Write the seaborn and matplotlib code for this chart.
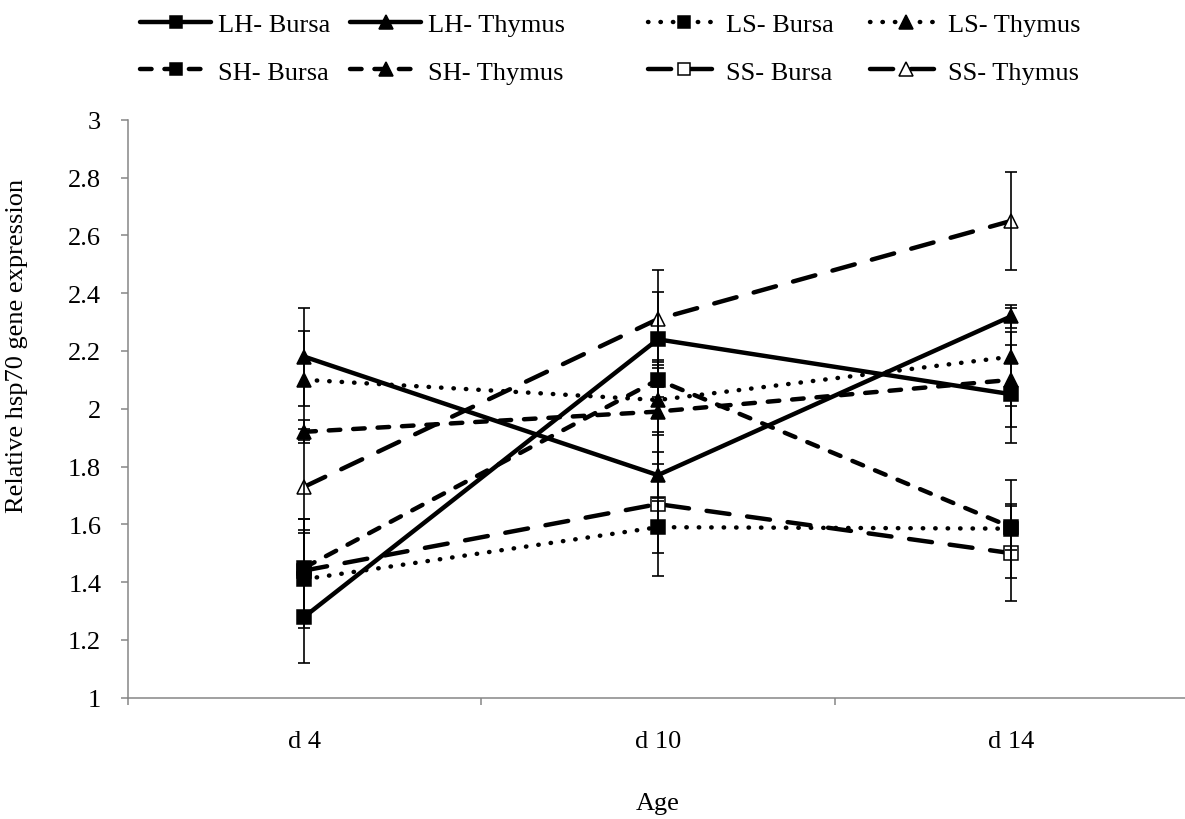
import numpy as np
import pandas as pd
import matplotlib
matplotlib.use("Agg")
import matplotlib.pyplot as plt
import seaborn as sns
from matplotlib.lines import Line2D

# Sampling ages and series
ages = ["d 4", "d 10", "d 14"]
series_names = ["LH- Bursa", "LH- Thymus", "LS- Bursa", "LS- Thymus",
                "SH- Bursa", "SH- Thymus", "SS- Bursa", "SS- Thymus"]

# Mean relative hsp70 expression per age
lh_bursa = [1.28, 2.24, 2.05]
lh_thymus = [2.18, 1.77, 2.32]
ls_bursa = [1.41, 1.59, 1.585]
ls_thymus = [2.10, 2.03, 2.18]
sh_bursa = [1.45, 2.10, 1.59]
sh_thymus = [1.92, 1.99, 2.10]
ss_bursa = [1.44, 1.67, 1.50]
ss_thymus = [1.73, 2.31, 2.65]

# Standard errors per age
lh_bursa_err = [0.16, 0.165, 0.17]
lh_thymus_err = [0.17, 0.08, 0.04]
ls_bursa_err = [0.17, 0.09, 0.17]
ls_thymus_err = [0.17, 0.12, 0.17]
sh_bursa_err = [0.17, 0.06, 0.08]
sh_thymus_err = [0.04, 0.18, 0.165]
ss_bursa_err = [0.18, 0.25, 0.165]
ss_thymus_err = [0.16, 0.17, 0.17]

means = [lh_bursa, lh_thymus, ls_bursa, ls_thymus,
         sh_bursa, sh_thymus, ss_bursa, ss_thymus]
errors = [lh_bursa_err, lh_thymus_err, ls_bursa_err, ls_thymus_err,
          sh_bursa_err, sh_thymus_err, ss_bursa_err, ss_thymus_err]

rows = []
for name, vals, errs in zip(series_names, means, errors):
    for i, (age, v, e) in enumerate(zip(ages, vals, errs)):
        rows.append({"series": name, "age": age, "pos": i, "value": v, "err": e})
df = pd.DataFrame(rows)

LW = 3.2
line_styles = {
    "LH": "-",
    "LS": (0, (0.1, 2.7)),
    "SH": (0, (2.6, 2.9)),
    "SS": (0, (5.2, 4.0)),
}

def series_style(name):
    group, organ = name.split("- ")
    marker = "s" if organ == "Bursa" else "^"
    ms = 9.5 if marker == "s" else 10.5
    face = "white" if group == "SS" else "black"
    return dict(ls=line_styles[group], marker=marker, ms=ms, mfc=face)

sns.set_theme(style="white")
plt.rcParams["font.family"] = ["Liberation Serif", "DejaVu Serif"]
plt.rcParams["text.color"] = "black"

fig = plt.figure(figsize=(11.85, 8.2), dpi=100)
ax_top, ax_bottom = 120.7, 698.7
ax = fig.add_axes([127.6 / 1185, 1 - ax_bottom / 820, 1060.5 / 1185,
                   (ax_bottom - ax_top) / 820])

for name in series_names:
    sub = df[df["series"] == name]
    st = series_style(name)
    z = 1.9 if name == "SS- Bursa" else 2.0
    sns.lineplot(data=sub, x="pos", y="value", ax=ax, color="black",
                 linewidth=LW, marker=st["marker"], markersize=st["ms"],
                 markerfacecolor=st["mfc"], markeredgecolor="black",
                 markeredgewidth=1.1, legend=False, errorbar=None, zorder=z)
    line = ax.lines[-1]
    line.set_linestyle(st["ls"])
    line.set_dash_capstyle("round")
    line.set_solid_capstyle("round")
    line.set_solid_joinstyle("round")
    ax.errorbar(sub["pos"], sub["value"], yerr=sub["err"], fmt="none",
                ecolor="black", elinewidth=1.2, capsize=4.3, capthick=1.2,
                zorder=3)

# Axes styling
gray = "#868686"
ax.set_xlim(-0.5, 2.5)
ax.set_ylim(1, 3)
yt = np.round(np.arange(1.0, 3.01, 0.2), 1)
ax.set_yticks(yt)
ax.set_yticklabels([f"{v:g}" for v in yt])
ax.set_xticks([0, 1, 2])
ax.set_xticklabels(ages)
ax.set_xticks([-0.5, 0.5, 1.5, 2.5], minor=True)

for side in ["top", "right"]:
    ax.spines[side].set_visible(False)
for side in ["left", "bottom"]:
    ax.spines[side].set_color(gray)
    ax.spines[side].set_linewidth(1.1)

ax.tick_params(axis="y", left=True, direction="out", length=5, width=1.1,
               color=gray, labelsize=19, pad=14, labelcolor="black")
ax.tick_params(axis="x", which="major", bottom=True, length=0,
               labelsize=19, pad=23, labelcolor="black")
ax.tick_params(axis="x", which="minor", bottom=True, direction="out",
               length=5, width=1.1, color=gray)

ax.set_xlabel("Age", fontsize=19, color="black")
ax.xaxis.set_label_coords(0.5, -0.163)
ax.set_ylabel("Relative hsp70 gene expression", fontsize=19, color="black")
ax.yaxis.set_label_coords(-0.094, 0.61)

# Legend: four columns, two rows
def handle(name):
    st = series_style(name)
    h = Line2D([], [], color="black", linewidth=LW, linestyle=st["ls"],
               marker=st["marker"], markersize=st["ms"] * 0.9,
               markerfacecolor=st["mfc"], markeredgecolor="black",
               markeredgewidth=1.1, dash_capstyle="round",
               solid_capstyle="round")
    return h

col_x = [140, 350, 648, 870]
for c in range(4):
    names = [series_names[c], series_names[c + 4]]
    fig.legend(handles=[handle(n) for n in names], labels=names,
               loc="upper left", bbox_to_anchor=(col_x[c] / 1185, 1 - 14 / 820),
               frameon=False, handlelength=2.7, handletextpad=0.25,
               labelspacing=0.9, borderaxespad=0, borderpad=0, fontsize=19)

fig.savefig("out.png", dpi=100, facecolor="white")
